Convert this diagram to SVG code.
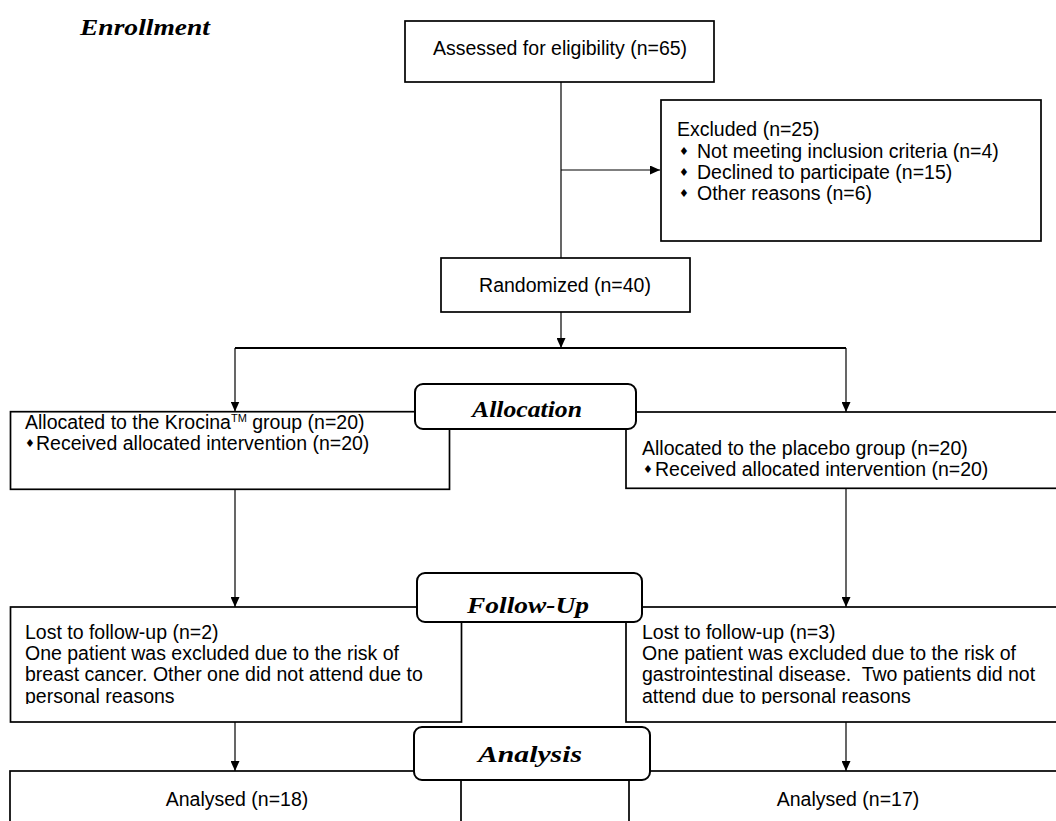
<svg xmlns="http://www.w3.org/2000/svg" width="1056" height="821" viewBox="0 0 1056 821">
<style>
.box{fill:#fff;stroke:#000;stroke-width:1.7}
.lbl{fill:#fff;stroke:#000;stroke-width:2}
.t{font-family:"Liberation Sans",Arial,sans-serif;font-size:19.5px;fill:#000}
.h{font-family:"Liberation Serif","Times New Roman",serif;font-size:24px;font-weight:bold;font-style:italic;fill:#000}
.c{fill:none;stroke:#000;stroke-width:1.2}
.b{font-family:"DejaVu Sans",sans-serif;font-size:11px;fill:#000}
.sup{font-size:11px}
</style>
<defs>
<marker id="ah" markerUnits="userSpaceOnUse" markerWidth="10" markerHeight="9" refX="10" refY="4.5" orient="auto"><path d="M0,0 L10,4.5 L0,9 z" fill="#000"/></marker>
<clipPath id="clipL"><rect x="0" y="600" width="470" height="104"/></clipPath>
<clipPath id="clipR"><rect x="620" y="600" width="436" height="104"/></clipPath>
</defs>
<rect x="0" y="0" width="1056" height="821" fill="#fff"/>
<g id="connectors">
<path class="c" d="M561,82 V258"/>
<path class="c" d="M561,170 H660" marker-end="url(#ah)"/>
<path class="c" d="M561,312 V348" marker-end="url(#ah)"/>
<path class="c" d="M235,348 H846" style="stroke-width:2"/>
<path class="c" d="M235,348 V411.5" marker-end="url(#ah)"/>
<path class="c" d="M846,348 V412" marker-end="url(#ah)"/>
<path class="c" d="M235,489 V607" marker-end="url(#ah)"/>
<path class="c" d="M846,488 V607" marker-end="url(#ah)"/>
<path class="c" d="M235,722 V771" marker-end="url(#ah)"/>
<path class="c" d="M846,722 V771" marker-end="url(#ah)"/>
</g>
<g id="enrollment-label">
<text class="h" x="80" y="35" textLength="130" lengthAdjust="spacingAndGlyphs">Enrollment</text>
</g>
<g id="assessed">
<rect class="box" x="405" y="21" width="309" height="61"/>
<text class="t" x="560" y="55" text-anchor="middle">Assessed for eligibility (n=65)</text>
</g>
<g id="excluded">
<rect class="box" x="661" y="100" width="380" height="141"/>
<text class="t" x="677" y="136">Excluded (n=25)</text>
<text class="b" x="679" y="155">♦</text>
<text class="t" x="697" y="158">Not meeting inclusion criteria (n=4)</text>
<text class="b" x="679" y="176">♦</text>
<text class="t" x="697" y="179">Declined to participate (n=15)</text>
<text class="b" x="679" y="197">♦</text>
<text class="t" x="697" y="200">Other reasons (n=6)</text>
</g>
<g id="randomized">
<rect class="box" x="441" y="258" width="249" height="54"/>
<text class="t" x="565" y="292" text-anchor="middle">Randomized (n=40)</text>
</g>
<g id="alloc-krocina">
<rect class="box" x="10.5" y="411.7" width="439" height="77.6"/>
<text class="t" x="25" y="429">Allocated to the Krocina<tspan class="sup" dy="-7">TM</tspan><tspan dy="7"> group (n=20)</tspan></text>
<text class="b" x="25" y="447">♦</text>
<text class="t" x="36" y="450">Received allocated intervention (n=20)</text>
</g>
<g id="alloc-placebo">
<rect class="box" x="626" y="412" width="440" height="76.3"/>
<text class="t" x="642" y="455">Allocated to the placebo group (n=20)</text>
<text class="b" x="643" y="473">♦</text>
<text class="t" x="655" y="476">Received allocated intervention (n=20)</text>
</g>
<g id="allocation-label">
<rect class="lbl" x="415" y="384" width="221" height="45" rx="8"/>
<text class="h" x="527" y="417" text-anchor="middle" textLength="110" lengthAdjust="spacingAndGlyphs">Allocation</text>
</g>
<g id="followup-krocina">
<rect class="box" x="10.5" y="607" width="451" height="115"/>
<g clip-path="url(#clipL)">
<text class="t" x="25" y="639">Lost to follow-up (n=2)</text>
<text class="t" x="25" y="660">One patient was excluded due to the risk of</text>
<text class="t" x="25" y="681">breast cancer. Other one did not attend due to</text>
<text class="t" x="25" y="703">personal reasons</text>
</g>
</g>
<g id="followup-placebo">
<rect class="box" x="626" y="607" width="440" height="115"/>
<g clip-path="url(#clipR)">
<text class="t" x="642" y="639">Lost to follow-up (n=3)</text>
<text class="t" x="642" y="660">One patient was excluded due to the risk of</text>
<text class="t" x="642" y="681" style="white-space:pre">gastrointestinal disease.  Two patients did not</text>
<text class="t" x="642" y="703">attend due to personal reasons</text>
</g>
</g>
<g id="followup-label">
<rect class="lbl" x="417" y="573" width="225" height="49" rx="8"/>
<text class="h" x="528" y="613" text-anchor="middle" textLength="122" lengthAdjust="spacingAndGlyphs">Follow-Up</text>
</g>
<g id="analysed-krocina">
<rect class="box" x="10" y="771" width="451" height="70"/>
<text class="t" x="237" y="806" text-anchor="middle">Analysed (n=18)</text>
</g>
<g id="analysed-placebo">
<rect class="box" x="629" y="771" width="440" height="70"/>
<text class="t" x="848" y="806" text-anchor="middle">Analysed (n=17)</text>
</g>
<g id="analysis-label">
<rect class="lbl" x="414" y="727" width="236" height="53" rx="8"/>
<text class="h" x="530" y="762" text-anchor="middle" textLength="104" lengthAdjust="spacingAndGlyphs">Analysis</text>
</g>
</svg>
